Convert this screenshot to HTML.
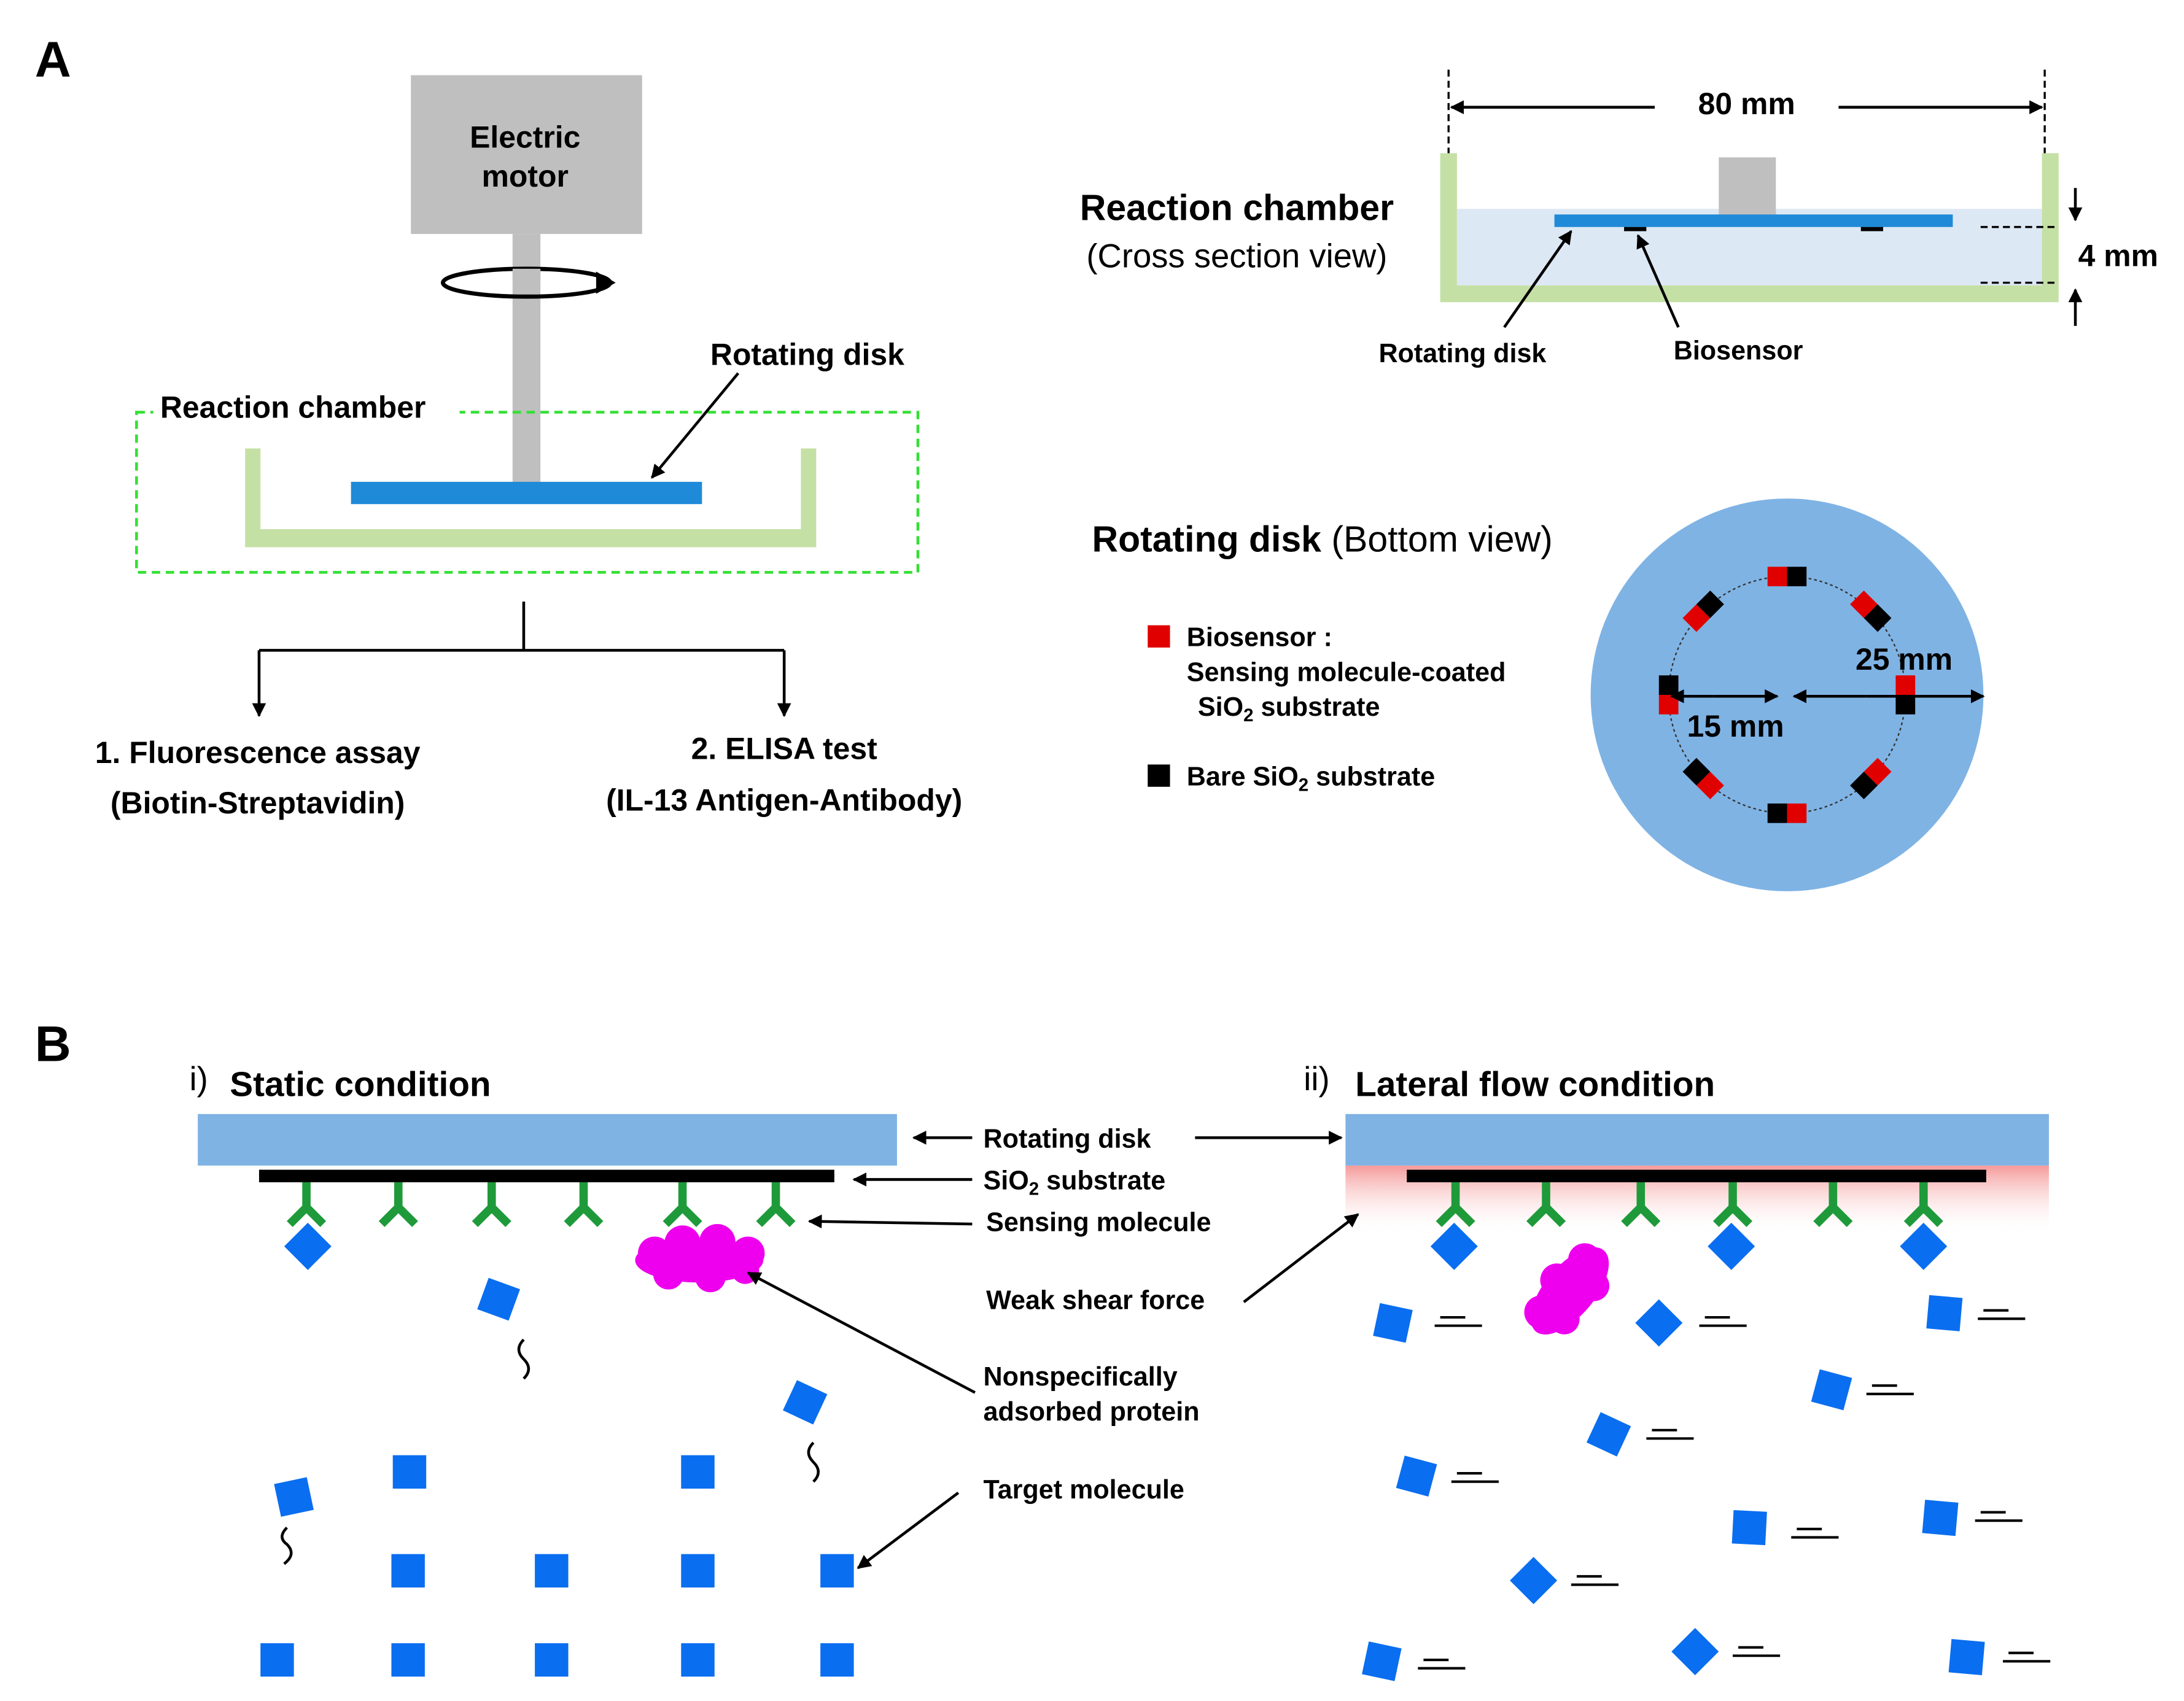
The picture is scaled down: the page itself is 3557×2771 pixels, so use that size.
<!DOCTYPE html>
<html><head><meta charset="utf-8"><style>
html,body{margin:0;padding:0;background:#fff;}
svg{display:block;}
text{font-family:"Liberation Sans",Arial,sans-serif;fill:#000;}
.b{font-weight:bold;}
</style></head><body>
<svg width="3557" height="2771" viewBox="0 0 1568 1221.5" xmlns="http://www.w3.org/2000/svg">
<defs>
<marker id="ah" viewBox="0 0 10 10" refX="9" refY="5" markerWidth="5" markerHeight="5" orient="auto-start-reverse" markerUnits="strokeWidth"><path d="M0,0 L10,5 L0,10 z" fill="#000"/></marker>
<linearGradient id="pk" x1="0" y1="0" x2="0" y2="1"><stop offset="0" stop-color="#f59a9a"/><stop offset="1" stop-color="#fff" stop-opacity="0"/></linearGradient>
<g id="ab"><path d="M0,0 V18 M0,18 L-12,30 M0,18 L12,30" stroke="#1f9a3a" stroke-width="6" fill="none"/></g>
<g id="pair"><rect x="-14" y="-7" width="14" height="14" fill="#e00000"/><rect x="0" y="-7" width="14" height="14" fill="#000"/></g>
<rect id="sq" x="-12" y="-12" width="24" height="24" fill="#0a6ef0"/>
<g id="dash"><path d="M0,0 H18 M-4,6 H30" stroke="#000" stroke-width="1.8"/></g>
</defs>

<!-- Panel A -->
<text x="25" y="55" class="b" font-size="36">A</text>
<rect x="295" y="54" width="166" height="114" fill="#bfbfbf"/>
<text x="377" y="106" class="b" font-size="22" text-anchor="middle">Electric</text>
<text x="377" y="134" class="b" font-size="22" text-anchor="middle">motor</text>
<rect x="368" y="168" width="20" height="180" fill="#bfbfbf"/>
<ellipse cx="378" cy="203" rx="60" ry="10" stroke="#000" stroke-width="3" fill="none"/>
<rect x="368" y="193" width="20" height="9" fill="#bfbfbf"/>
<path d="M428,195 L442,203 L428,211 z" fill="#000"/>
<rect x="98" y="296" width="561" height="115" fill="none" stroke="#33e033" stroke-width="2" stroke-dasharray="6,4"/>
<rect x="110" y="280" width="220" height="26" fill="#fff"/>
<text x="115" y="300" class="b" font-size="22">Reaction chamber</text>
<path d="M176,322 h11 v58 h388 v-58 h11 v71 h-410 z" fill="#c5e0a5"/>
<rect x="252" y="346" width="252" height="16" fill="#1f8ad8"/>
<text x="510" y="262" class="b" font-size="22">Rotating disk</text>
<line x1="530" y1="268" x2="468" y2="343" stroke="#000" stroke-width="2" marker-end="url(#ah)"/>
<path d="M376,432 V467 M186,467 H563" stroke="#000" stroke-width="2"/>
<line x1="186" y1="467" x2="186" y2="514" stroke="#000" stroke-width="2" marker-end="url(#ah)"/>
<line x1="563" y1="467" x2="563" y2="514" stroke="#000" stroke-width="2" marker-end="url(#ah)"/>
<text x="185" y="548" class="b" font-size="22" text-anchor="middle">1. Fluorescence assay</text>
<text x="185" y="584" class="b" font-size="22" text-anchor="middle">(Biotin-Streptavidin)</text>
<text x="563" y="545" class="b" font-size="22" text-anchor="middle">2. ELISA test</text>
<text x="563" y="582" class="b" font-size="22" text-anchor="middle">(IL-13 Antigen-Antibody)</text>

<!-- Cross section -->
<path d="M1040,50 V110 M1468,50 V110" stroke="#000" stroke-width="1.5" stroke-dasharray="5,3"/>
<line x1="1188" y1="77" x2="1042" y2="77" stroke="#000" stroke-width="2" marker-end="url(#ah)"/>
<line x1="1320" y1="77" x2="1466" y2="77" stroke="#000" stroke-width="2" marker-end="url(#ah)"/>
<text x="1254" y="82" class="b" font-size="22" text-anchor="middle">80 mm</text>
<rect x="1046" y="150" width="420" height="56" fill="#dde8f5"/>
<path d="M1034,110 h12 v95 h420 v-95 h12 v107 h-444 z" fill="#c5e0a5"/>
<rect x="1234" y="113" width="41" height="42" fill="#bfbfbf"/>
<rect x="1116" y="154" width="286" height="9" fill="#1f8ad8"/>
<rect x="1166" y="163" width="16" height="3" fill="#000"/>
<rect x="1336" y="163" width="16" height="3" fill="#000"/>
<path d="M1422,163 H1476 M1422,203 H1476" stroke="#000" stroke-width="1.5" stroke-dasharray="5,3"/>
<line x1="1490" y1="135" x2="1490" y2="158" stroke="#000" stroke-width="2" marker-end="url(#ah)"/>
<line x1="1490" y1="234" x2="1490" y2="208" stroke="#000" stroke-width="2" marker-end="url(#ah)"/>
<text x="1492" y="191" class="b" font-size="22">4 mm</text>
<text x="888" y="158" class="b" font-size="26" text-anchor="middle">Reaction chamber</text>
<text x="888" y="192" font-size="24" text-anchor="middle">(Cross section view)</text>
<line x1="1080" y1="235" x2="1128" y2="166" stroke="#000" stroke-width="2" marker-end="url(#ah)"/>
<line x1="1205" y1="235" x2="1176" y2="169" stroke="#000" stroke-width="2" marker-end="url(#ah)"/>
<text x="1050" y="260" class="b" font-size="19" text-anchor="middle">Rotating disk</text>
<text x="1248" y="258" class="b" font-size="19" text-anchor="middle">Biosensor</text>

<!-- Bottom view -->
<text x="784" y="396" font-size="26"><tspan class="b">Rotating disk</tspan> (Bottom view)</text>
<circle cx="1283" cy="499" r="141" fill="#7fb3e4"/>
<circle cx="1283" cy="499" r="85" fill="none" stroke="#333" stroke-width="1" stroke-dasharray="2,2"/>
<g transform="translate(1283,499)">
<g transform="rotate(0) translate(0,-85)"><use href="#pair"/></g>
<g transform="rotate(45) translate(0,-85)"><use href="#pair"/></g>
<g transform="rotate(90) translate(0,-85)"><use href="#pair"/></g>
<g transform="rotate(135) translate(0,-85)"><use href="#pair"/></g>
<g transform="rotate(180) translate(0,-85)"><use href="#pair"/></g>
<g transform="rotate(225) translate(0,-85)"><use href="#pair"/></g>
<g transform="rotate(270) translate(0,-85)"><use href="#pair"/></g>
<g transform="rotate(315) translate(0,-85)"><use href="#pair"/></g>
</g>
<line x1="1230" y1="500" x2="1200" y2="500" stroke="#000" stroke-width="2" marker-end="url(#ah)"/>
<line x1="1230" y1="500" x2="1276" y2="500" stroke="#000" stroke-width="2" marker-end="url(#ah)"/>
<line x1="1340" y1="500" x2="1288" y2="500" stroke="#000" stroke-width="2" marker-end="url(#ah)"/>
<line x1="1340" y1="500" x2="1424" y2="500" stroke="#000" stroke-width="2" marker-end="url(#ah)"/>
<text x="1246" y="529" class="b" font-size="22" text-anchor="middle">15 mm</text>
<text x="1367" y="481" class="b" font-size="22" text-anchor="middle">25 mm</text>
<rect x="824" y="449" width="16" height="16" fill="#e00000"/>
<text x="852" y="464" class="b" font-size="19">Biosensor :</text>
<text x="852" y="489" class="b" font-size="19">Sensing molecule-coated</text>
<text x="860" y="514" class="b" font-size="19">SiO<tspan font-size="13" dy="4">2</tspan><tspan dy="-4"> substrate</tspan></text>
<rect x="824" y="549" width="16" height="16" fill="#000"/>
<text x="852" y="564" class="b" font-size="19">Bare SiO<tspan font-size="13" dy="4">2</tspan><tspan dy="-4"> substrate</tspan></text>

<!-- Panel B -->
<text x="25" y="762" class="b" font-size="36">B</text>
<text x="136" y="783" font-size="24">i)</text>
<text x="165" y="787" class="b" font-size="25">Static condition</text>
<text x="936" y="783" font-size="24">ii)</text>
<text x="973" y="787" class="b" font-size="25">Lateral flow condition</text>

<rect x="142" y="800" width="502" height="37" fill="#7fb3e4"/>
<rect x="186" y="840" width="413" height="9" fill="#000"/>
<g transform="translate(0,849)">
<use href="#ab" x="220"/><use href="#ab" x="286"/><use href="#ab" x="353"/><use href="#ab" x="419"/><use href="#ab" x="490"/><use href="#ab" x="557"/>
</g>

<rect x="966" y="837" width="505" height="50" fill="url(#pk)"/>
<rect x="966" y="800" width="505" height="37" fill="#7fb3e4"/>
<rect x="1010" y="840" width="416" height="9" fill="#000"/>
<g transform="translate(0,849)">
<use href="#ab" x="1045"/><use href="#ab" x="1110"/><use href="#ab" x="1178"/><use href="#ab" x="1244"/><use href="#ab" x="1316"/><use href="#ab" x="1381"/>
</g>

<g transform="translate(221,895) rotate(45)"><use href="#sq"/></g>
<g transform="translate(1044,895) rotate(45)"><use href="#sq"/></g>
<g transform="translate(1243,895) rotate(45)"><use href="#sq"/></g>
<g transform="translate(1381,895) rotate(45)"><use href="#sq"/></g>

<g fill="#ee00ee">
<ellipse cx="502" cy="905" rx="46" ry="16"/>
<circle cx="470" cy="900" r="12"/><circle cx="490" cy="893" r="13"/><circle cx="515" cy="892" r="13"/><circle cx="537" cy="900" r="12"/><circle cx="480" cy="915" r="11"/><circle cx="510" cy="917" r="11"/><circle cx="535" cy="912" r="10"/>
<g transform="translate(1127,927) rotate(-50)">
<ellipse cx="0" cy="0" rx="38" ry="18"/>
<circle cx="-25" cy="-6" r="12"/><circle cx="0" cy="-12" r="12"/><circle cx="24" cy="-6" r="12"/><circle cx="-18" cy="10" r="11"/><circle cx="14" cy="11" r="11"/>
</g>
</g>

<use href="#sq" x="294" y="1057"/><use href="#sq" x="501" y="1057"/>
<use href="#sq" x="293" y="1128"/><use href="#sq" x="396" y="1128"/><use href="#sq" x="501" y="1128"/><use href="#sq" x="601" y="1128"/>
<use href="#sq" x="199" y="1192"/><use href="#sq" x="293" y="1192"/><use href="#sq" x="396" y="1192"/><use href="#sq" x="501" y="1192"/><use href="#sq" x="601" y="1192"/>
<g transform="translate(358,933) rotate(20)"><use href="#sq"/></g>
<g transform="translate(578,1007) rotate(25)"><use href="#sq"/></g>
<g transform="translate(211,1075) rotate(-12)"><use href="#sq"/></g>
<g stroke="#000" stroke-width="2" fill="none">
<path d="M376,962 q-7,7 0,14 q7,7 0,14"/>
<path d="M584,1036 q-7,7 0,14 q7,7 0,14"/>
<path d="M206,1097 q-7,7 0,12 q7,7 -2,14"/>
</g>

<g transform="translate(1000,950) rotate(12)"><use href="#sq"/></g><use href="#dash" x="1034" y="946"/>
<g transform="translate(1191,950) rotate(45)"><use href="#sq"/></g><use href="#dash" x="1224" y="946"/>
<g transform="translate(1396,943) rotate(5)"><use href="#sq"/></g><use href="#dash" x="1424" y="941"/>
<g transform="translate(1315,998) rotate(15)"><use href="#sq"/></g><use href="#dash" x="1344" y="995"/>
<g transform="translate(1155,1030) rotate(25)"><use href="#sq"/></g><use href="#dash" x="1186" y="1027"/>
<g transform="translate(1017,1060) rotate(15)"><use href="#sq"/></g><use href="#dash" x="1046" y="1058"/>
<g transform="translate(1256,1097) rotate(3)"><use href="#sq"/></g><use href="#dash" x="1290" y="1098"/>
<g transform="translate(1393,1090) rotate(5)"><use href="#sq"/></g><use href="#dash" x="1422" y="1086"/>
<g transform="translate(1101,1135) rotate(45)"><use href="#sq"/></g><use href="#dash" x="1132" y="1132"/>
<g transform="translate(992,1193) rotate(12)"><use href="#sq"/></g><use href="#dash" x="1022" y="1192"/>
<g transform="translate(1217,1186) rotate(45)"><use href="#sq"/></g><use href="#dash" x="1248" y="1183"/>
<g transform="translate(1412,1190) rotate(5)"><use href="#sq"/></g><use href="#dash" x="1442" y="1187"/>

<text x="706" y="824" class="b" font-size="19">Rotating disk</text>
<text x="706" y="854" class="b" font-size="19">SiO<tspan font-size="13" dy="4">2</tspan><tspan dy="-4"> substrate</tspan></text>
<text x="708" y="884" class="b" font-size="19">Sensing molecule</text>
<text x="708" y="940" class="b" font-size="19">Weak shear force</text>
<text x="706" y="995" class="b" font-size="19">Nonspecifically</text>
<text x="706" y="1020" class="b" font-size="19">adsorbed protein</text>
<text x="706" y="1076" class="b" font-size="19">Target molecule</text>
<g stroke="#000" stroke-width="2" fill="none">
<line x1="698" y1="817" x2="656" y2="817" marker-end="url(#ah)"/>
<line x1="858" y1="817" x2="963" y2="817" marker-end="url(#ah)"/>
<line x1="698" y1="847" x2="613" y2="847" marker-end="url(#ah)"/>
<line x1="698" y1="879" x2="581" y2="877" marker-end="url(#ah)"/>
<line x1="893" y1="935" x2="975" y2="872" marker-end="url(#ah)"/>
<line x1="700" y1="1000" x2="537" y2="914" marker-end="url(#ah)"/>
<line x1="688" y1="1072" x2="616" y2="1126" marker-end="url(#ah)"/>
</g>
</svg>
</body></html>
